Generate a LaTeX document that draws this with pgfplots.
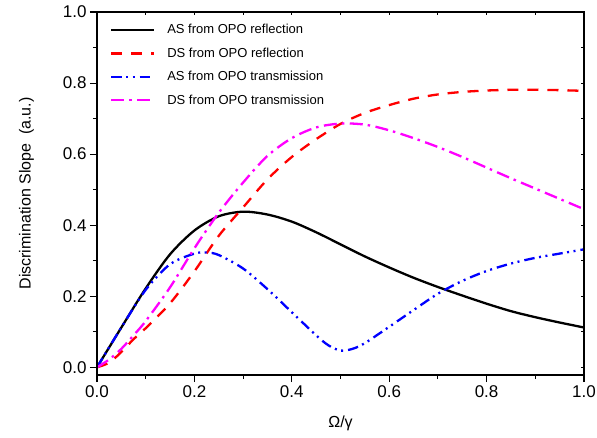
\documentclass[border=0pt]{standalone}
\usepackage{fontspec}
\setmainfont{Liberation Sans}
\usepackage{pgfplots}
\pgfplotsset{compat=1.18}
\definecolor{cRed}{RGB}{255,0,0}
\definecolor{cBlue}{RGB}{0,0,255}
\definecolor{cMag}{RGB}{255,0,255}
\begin{document}
\begin{tikzpicture}
\path[use as bounding box] (-97bp,-63bp) rectangle (500bp,375bp);
\begin{axis}[
  at={(0,0)}, anchor=south west,
  scale only axis, width=487bp, height=363bp,
  xmin=0, xmax=1, ymin=-0.0217, ymax=1,
  axis line style={line width=1.2bp},
  xtick={0,0.2,0.4,0.6,0.8,1}, ytick={0,0.2,0.4,0.6,0.8,1},
  minor x tick num=1, minor y tick num=1,
  xtick pos=left, ytick pos=left,
  tick align=outside,
  major tick length=7bp, minor tick length=4bp,
  every tick/.style={black, line width=1.1bp},
  ticklabel style={font=\fontsize{17bp}{20bp}\selectfont},
  /pgf/number format/.cd, fixed, fixed zerofill, precision=1, assume math mode=true,
  /pgfplots/.cd,
  xlabel={Ω/γ},
  ylabel={Discrimination Slope\ \ (a.u.)},
  xlabel style={font=\fontsize{16bp}{19bp}\selectfont, at={(axis description cs:0.5,-0.146)}, anchor=base},
  ylabel style={font=\fontsize{16bp}{19bp}\selectfont, at={(axis description cs:-0.145,0.5)}, anchor=center},
  legend style={at={(0.0267,0.971)}, anchor=north west, draw=none, fill=none,
    inner sep=0pt, outer sep=0pt, row sep=8.5bp, column sep=10bp,
    font=\fontsize{13bp}{15bp}\selectfont},
  legend cell align=left,
  legend image code/.code={\draw[#1] (0bp,0bp) -- (43bp,0bp);},
  every axis plot/.append style={line width=2.3bp},
]
\addplot[black, solid, smooth] coordinates {
(0,0) (0.05,0.112) (0.1,0.222) (0.15,0.318) (0.2,0.385) (0.25,0.425) (0.3,0.438)
(0.35,0.43) (0.4,0.41) (0.45,0.38) (0.5,0.346) (0.55,0.312) (0.6,0.281) (0.65,0.252)
(0.7,0.226) (0.75,0.202) (0.8,0.179) (0.85,0.158) (0.9,0.141) (0.95,0.126) (1.0,0.112)};
\addlegendentry{AS from OPO reflection}
\addplot[cRed, dash pattern=on 11bp off 9bp, smooth] coordinates {
(0,0) (0.025,0.013) (0.05,0.043) (0.075,0.079) (0.1,0.11) (0.15,0.18) (0.2,0.27)
(0.25,0.37) (0.3,0.45) (0.35,0.529) (0.4,0.592) (0.45,0.642) (0.5,0.685) (0.55,0.716)
(0.6,0.738) (0.65,0.756) (0.7,0.768) (0.75,0.775) (0.8,0.779) (0.85,0.781) (0.9,0.781)
(0.95,0.78) (1.0,0.778)};
\addlegendentry{DS from OPO reflection}
\addplot[cBlue, dash pattern=on 10.5bp off 4.5bp on 2bp off 4.5bp on 2bp off 5bp, smooth] coordinates {
(0,0) (0.05,0.112) (0.1,0.218) (0.15,0.29) (0.2,0.32) (0.225,0.323) (0.25,0.316)
(0.3,0.278) (0.35,0.22) (0.4,0.155) (0.45,0.09) (0.475,0.062) (0.5,0.047) (0.525,0.052)
(0.55,0.068) (0.6,0.114) (0.65,0.161) (0.7,0.207) (0.75,0.243) (0.8,0.271) (0.85,0.292)
(0.9,0.308) (0.95,0.32) (1.0,0.332)};
\addlegendentry{AS from OPO transmission}
\addplot[cMag, dash pattern=on 13bp off 5bp on 2.5bp off 5.5bp, smooth] coordinates {
(0,0) (0.025,0.022) (0.05,0.052) (0.075,0.09) (0.1,0.13) (0.15,0.225) (0.2,0.335)
(0.25,0.435) (0.3,0.52) (0.35,0.595) (0.4,0.645) (0.45,0.675) (0.5,0.686) (0.55,0.683)
(0.6,0.667) (0.65,0.645) (0.7,0.62) (0.75,0.592) (0.8,0.562) (0.85,0.532) (0.9,0.503)
(0.95,0.474) (1.0,0.445)};
\addlegendentry{DS from OPO transmission}
\end{axis}
\begin{axis}[
  at={(0,0)}, anchor=south west,
  scale only axis, width=487bp, height=363bp,
  xmin=0, xmax=1, ymin=-0.0217, ymax=1,
  axis line style={line width=1.2bp},
  xtick={0,0.1,0.2,0.3,0.4,0.5,0.6,0.7,0.8,0.9,1},
  ytick={0,0.1,0.2,0.3,0.4,0.5,0.6,0.7,0.8,0.9,1},
  xticklabels={}, yticklabels={},
  xtick pos=right, ytick pos=right,
  tick align=inside, major tick length=3.5bp,
  every tick/.style={black, line width=1.1bp},
]
\end{axis}
\end{tikzpicture}
\end{document}
